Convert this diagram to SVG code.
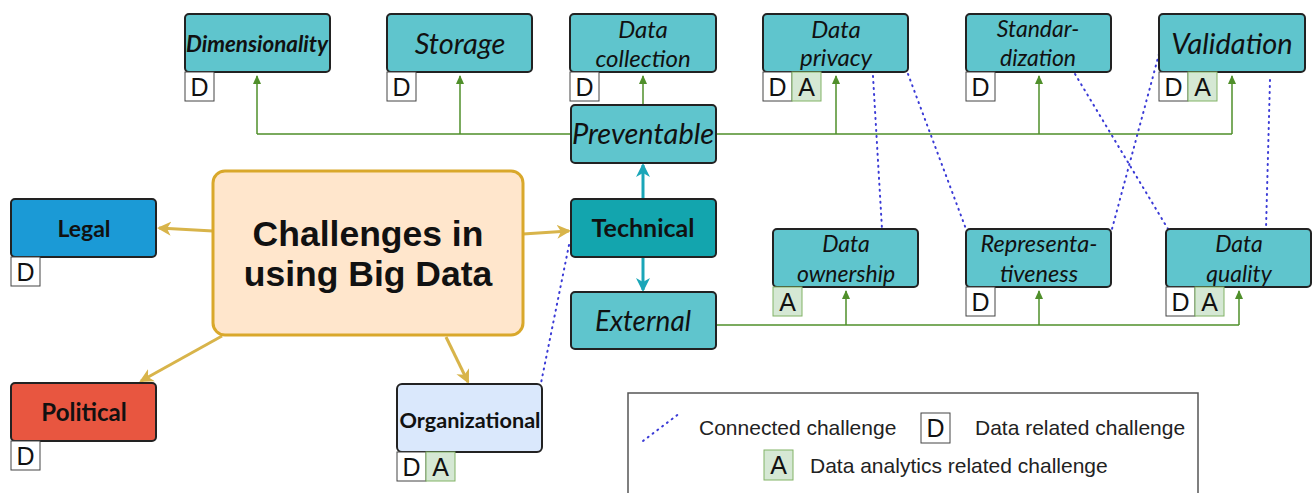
<svg xmlns="http://www.w3.org/2000/svg" width="1313" height="493" viewBox="0 0 1313 493">
<style>
.t{fill:#5fc5cd;stroke:#222;stroke-width:2}
.it{font-family:Lato,"Noto Sans",sans-serif;font-style:italic;fill:#111;text-anchor:middle}
.bd{font-family:Lato,"Noto Sans",sans-serif;font-weight:bold;fill:#111;text-anchor:middle}
.bD{fill:#fff;stroke:#444;stroke-width:1}
.bA{fill:#d5e8d4;stroke:#82b366;stroke-width:1}
.bt{font-family:"Liberation Sans",Arial,sans-serif;font-size:25px;fill:#111;text-anchor:middle}
.g{stroke:#4f8f2a;stroke-width:1.5;fill:none}
.gold{stroke:#d8b44a;stroke-width:3;fill:none}
.tealc{stroke:#1aa6b8;stroke-width:3;fill:none}
.dot{stroke:#3a3ad6;stroke-width:2;stroke-dasharray:1 5;stroke-linecap:round;fill:none}
.lg{font-family:"Liberation Sans",Arial,sans-serif;font-size:21px;fill:#222}
</style>
<defs>
<marker id="ag" markerWidth="10" markerHeight="10" refX="8" refY="5" orient="auto" markerUnits="userSpaceOnUse"><path d="M0,1 L9,5 L0,9 Z" fill="#4f8f2a"/></marker>
<marker id="ao" markerWidth="16" markerHeight="16" refX="12" refY="8" orient="auto" markerUnits="userSpaceOnUse"><path d="M0,1 L14,8 L0,15 L4,8 Z" fill="#d8b44a"/></marker>
<marker id="at" markerWidth="16" markerHeight="16" refX="12" refY="8" orient="auto" markerUnits="userSpaceOnUse"><path d="M0,1 L14,8 L0,15 L4,8 Z" fill="#1aa6b8"/></marker>
</defs>
<rect width="1313" height="493" fill="#fff"/>
<g id="connectors">
<path class="g" d="M257,134 H570 M716,134 H1232" />
<path class="g" d="M257,134 V76" marker-end="url(#ag)"/>
<path class="g" d="M460,134 V76" marker-end="url(#ag)"/>
<path class="g" d="M643,105 V76" marker-end="url(#ag)"/>
<path class="g" d="M836,134 V76" marker-end="url(#ag)"/>
<path class="g" d="M1039,134 V76" marker-end="url(#ag)"/>
<path class="g" d="M1232,134 V76" marker-end="url(#ag)"/>
<path class="g" d="M716,325 H1239"/>
<path class="g" d="M846,325 V291" marker-end="url(#ag)"/>
<path class="g" d="M1039,325 V291" marker-end="url(#ag)"/>
<path class="g" d="M1239,325 V291" marker-end="url(#ag)"/>
<path class="tealc" d="M643,199 V165" marker-end="url(#at)"/>
<path class="tealc" d="M643,257 V290" marker-end="url(#at)"/>
<path class="gold" d="M213,231 L159,228" marker-end="url(#ao)"/>
<path class="gold" d="M523,234 L569,231" marker-end="url(#ao)"/>
<path class="gold" d="M222,336 L141,381" marker-end="url(#ao)"/>
<path class="gold" d="M446,337 L468,382" marker-end="url(#ao)"/>
<path class="dot" d="M569,245 L541,383"/>
<path class="dot" d="M873,76 L882,229"/>
<path class="dot" d="M908,74 L966,229"/>
<path class="dot" d="M1075,74 L1168,229"/>
<path class="dot" d="M1159,54 L1112,229"/>
<path class="dot" d="M1270,80 L1266,229"/>
</g>
<g id="center">
<rect x="213" y="171" width="310" height="164" rx="12" fill="#ffe6cc" stroke="#d9a82b" stroke-width="3"/>
<text x="368" y="246" font-family="'Liberation Sans',Arial,sans-serif" font-weight="bold" font-size="35.5" text-anchor="middle" fill="#111">Challenges in</text>
<text x="368" y="286" font-family="'Liberation Sans',Arial,sans-serif" font-weight="bold" font-size="35.5" text-anchor="middle" fill="#111">using Big Data</text>
</g>
<g id="legal">
<rect x="11" y="199" width="145" height="58" rx="4" fill="#1b9ad6" stroke="#222" stroke-width="2"/>
<text class="bd" x="84" y="237" font-size="23">Legal</text>
<rect class="bD" x="11" y="257" width="29" height="29"/><text class="bt" x="25.5" y="281">D</text>
</g>
<g id="political">
<rect x="11" y="383" width="145" height="58" rx="4" fill="#e85640" stroke="#222" stroke-width="2"/>
<text class="bd" x="84" y="421" font-size="24">Political</text>
<rect class="bD" x="11" y="441" width="29" height="29"/><text class="bt" x="25.5" y="465">D</text>
</g>
<g id="organizational">
<rect x="397" y="384" width="145" height="68" rx="5" fill="#dae8fc" stroke="#222" stroke-width="2"/>
<text class="bd" x="470" y="428" font-size="21" textLength="141" lengthAdjust="spacingAndGlyphs">Organizational</text>
<rect class="bD" x="397" y="452" width="29" height="29"/><text class="bt" x="411.5" y="476">D</text>
<rect class="bA" x="426" y="452" width="29" height="29"/><text class="bt" x="440.5" y="476">A</text>
</g>
<g id="technical">
<rect x="571" y="199" width="145" height="58" rx="4" fill="#13a5ae" stroke="#222" stroke-width="2"/>
<text class="bd" x="643" y="237" font-size="25">Technical</text>
</g>
<g id="preventable">
<rect class="t" x="571" y="105" width="145" height="58" rx="4"/>
<text class="it" x="643" y="144" font-size="29">Preventable</text>
</g>
<g id="external">
<rect class="t" x="571" y="292" width="145" height="57" rx="4"/>
<text class="it" x="643" y="331" font-size="28">External</text>
</g>
<g id="dimensionality">
<rect class="t" x="185" y="14" width="145" height="58" rx="4"/>
<text class="it" x="257" y="52" font-size="22" font-weight="bold" textLength="142" lengthAdjust="spacingAndGlyphs">Dimensionality</text>
<rect class="bD" x="185" y="72" width="29" height="29"/><text class="bt" x="199.5" y="96">D</text>
</g>
<g id="storage">
<rect class="t" x="387" y="14" width="145" height="58" rx="4"/>
<text class="it" x="460" y="54" font-size="29">Storage</text>
<rect class="bD" x="387" y="72" width="29" height="29"/><text class="bt" x="401.5" y="96">D</text>
</g>
<g id="data-collection">
<rect class="t" x="570" y="14" width="146" height="58" rx="4"/>
<text class="it" x="643" y="38" font-size="24">Data</text>
<text class="it" x="643" y="67" font-size="24">collection</text>
<rect class="bD" x="570" y="72" width="29" height="29"/><text class="bt" x="584.5" y="96">D</text>
</g>
<g id="data-privacy">
<rect class="t" x="763" y="14" width="145" height="58" rx="4"/>
<text class="it" x="836" y="38" font-size="24">Data</text>
<text class="it" x="836" y="66" font-size="24">privacy</text>
<rect class="bD" x="763" y="72" width="29" height="29"/><text class="bt" x="777.5" y="96">D</text>
<rect class="bA" x="792" y="72" width="29" height="29"/><text class="bt" x="806.5" y="96">A</text>
</g>
<g id="standardization">
<rect class="t" x="966" y="14" width="145" height="58" rx="4"/>
<text class="it" x="1038" y="37" font-size="23">Standar-</text>
<text class="it" x="1038" y="66" font-size="23">dization</text>
<rect class="bD" x="966" y="72" width="29" height="29"/><text class="bt" x="980.5" y="96">D</text>
</g>
<g id="validation">
<rect class="t" x="1159" y="14" width="146" height="58" rx="4"/>
<text class="it" x="1232" y="54" font-size="29">Validation</text>
<rect class="bD" x="1159" y="72" width="29" height="29"/><text class="bt" x="1173.5" y="96">D</text>
<rect class="bA" x="1188" y="72" width="29" height="29"/><text class="bt" x="1202.5" y="96">A</text>
</g>
<g id="data-ownership">
<rect class="t" x="773" y="229" width="145" height="58" rx="4"/>
<text class="it" x="846" y="252" font-size="23">Data</text>
<text class="it" x="846" y="282" font-size="23">ownership</text>
<rect class="bA" x="773" y="287" width="29" height="29"/><text class="bt" x="787.5" y="311">A</text>
</g>
<g id="representativeness">
<rect class="t" x="966" y="229" width="145" height="58" rx="4"/>
<text class="it" x="1039" y="252" font-size="23.5">Representa-</text>
<text class="it" x="1039" y="282" font-size="23.5">tiveness</text>
<rect class="bD" x="966" y="287" width="29" height="29"/><text class="bt" x="980.5" y="311">D</text>
</g>
<g id="data-quality">
<rect class="t" x="1166" y="229" width="145" height="58" rx="4"/>
<text class="it" x="1239" y="252" font-size="23">Data</text>
<text class="it" x="1239" y="282" font-size="23">quality</text>
<rect class="bD" x="1166" y="287" width="29" height="29"/><text class="bt" x="1180.5" y="311">D</text>
<rect class="bA" x="1195" y="287" width="29" height="29"/><text class="bt" x="1209.5" y="311">A</text>
</g>
<g id="legend">
<rect x="628" y="393" width="570" height="110" fill="#fff" stroke="#555" stroke-width="1.5"/>
<path class="dot" d="M643,441 L680,413"/>
<text class="lg" x="699" y="435">Connected challenge</text>
<rect class="bD" x="921" y="413" width="29" height="30"/><text class="bt" x="935.5" y="437">D</text>
<text class="lg" x="975" y="435">Data related challenge</text>
<rect class="bA" x="764" y="450" width="29" height="30"/><text class="bt" x="778.5" y="474">A</text>
<text class="lg" x="810" y="473">Data analytics related challenge</text>
</g>
</svg>
